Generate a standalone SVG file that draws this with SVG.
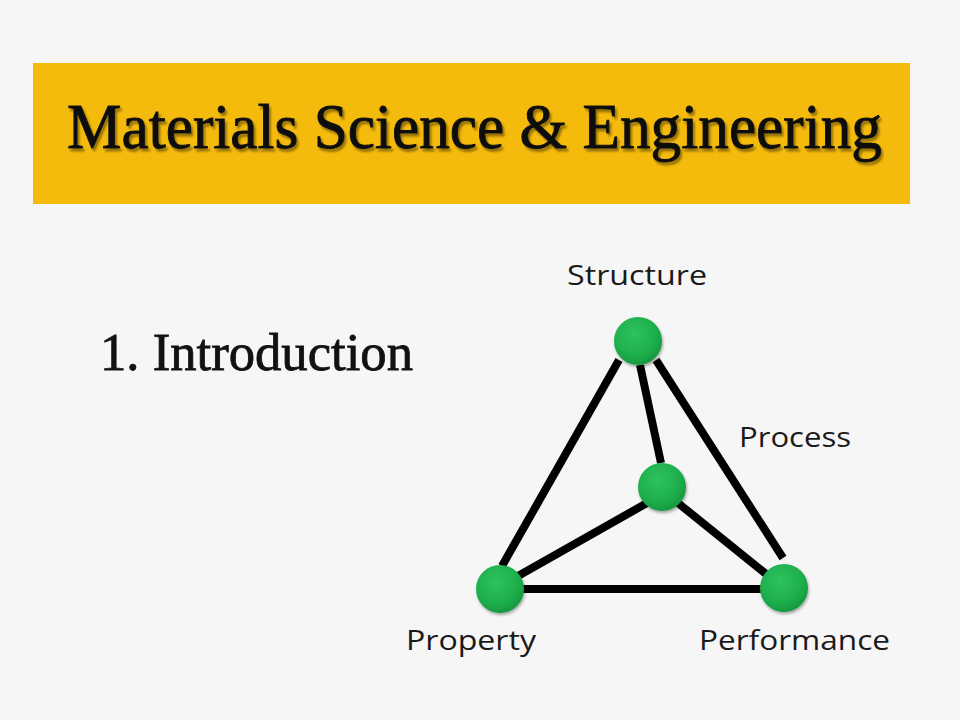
<svg xmlns="http://www.w3.org/2000/svg" width="960" height="720" viewBox="0 0 960 720">
<defs>
<radialGradient id="ball" cx="0.42" cy="0.35" r="0.65">
<stop offset="0" stop-color="#2fc25e"/>
<stop offset="0.7" stop-color="#1eae4c"/>
<stop offset="1" stop-color="#17993f"/>
</radialGradient>
<filter id="glow" x="-30%" y="-30%" width="160%" height="160%">
<feGaussianBlur in="SourceAlpha" stdDeviation="1.5"/>
<feOffset dx="1" dy="2"/>
<feComponentTransfer><feFuncA type="linear" slope="0.35"/></feComponentTransfer>
<feMerge><feMergeNode/><feMergeNode in="SourceGraphic"/></feMerge>
</filter>
<filter id="tshadow" x="-5%" y="-20%" width="110%" height="140%">
<feGaussianBlur in="SourceAlpha" stdDeviation="1"/>
<feOffset dx="2" dy="3"/>
<feComponentTransfer><feFuncA type="linear" slope="0.4"/></feComponentTransfer>
<feMerge><feMergeNode/><feMergeNode in="SourceGraphic"/></feMerge>
</filter>
<style>
.title{font-family:"Liberation Serif",serif;font-size:64px;fill:#111;stroke:#111;stroke-width:0.9px;filter:url(#tshadow);}
.sub{font-family:"Liberation Serif",serif;font-size:52px;fill:#111;stroke:#111;stroke-width:0.8px;}
.lbl{font-family:"Open Sans","Noto Sans",sans-serif;font-size:28px;fill:#1a1a1a;}
.edge{stroke:#000;stroke-width:8;stroke-linecap:butt;fill:none;}
.node{fill:url(#ball);filter:url(#glow);}
</style>
</defs>
<rect x="0" y="0" width="960" height="720" fill="#f6f6f6"/>
<g id="banner">
<rect x="33" y="63" width="877" height="141" fill="#f5bb0c"/>
<text class="title" x="67" y="148" textLength="815" lengthAdjust="spacingAndGlyphs">Materials Science &amp; Engineering</text>
</g>
<g id="intro">
<text class="sub" x="100" y="370" textLength="313" lengthAdjust="spacingAndGlyphs">1. Introduction</text>
</g>
<g id="connectors">
<line class="edge" x1="619" y1="360" x2="502" y2="566"/>
<line class="edge" x1="640" y1="365" x2="661" y2="463"/>
<line class="edge" x1="656" y1="360" x2="783" y2="558"/>
<line class="edge" x1="647" y1="503" x2="518" y2="576"/>
<line class="edge" x1="678" y1="503" x2="771" y2="578"/>
<line class="edge" x1="520" y1="589" x2="765" y2="589"/>
</g>
<g id="structure">
<circle class="node" cx="638" cy="341" r="24"/>
<text class="lbl" x="637" y="285" text-anchor="middle" textLength="140" lengthAdjust="spacingAndGlyphs">Structure</text>
</g>
<g id="process">
<circle class="node" cx="662" cy="487" r="24"/>
<text class="lbl" x="739" y="447" textLength="112" lengthAdjust="spacingAndGlyphs">Process</text>
</g>
<g id="property">
<circle class="node" cx="500" cy="589" r="24"/>
<text class="lbl" x="406" y="650" textLength="130" lengthAdjust="spacingAndGlyphs">Property</text>
</g>
<g id="performance">
<circle class="node" cx="784" cy="588" r="24"/>
<text class="lbl" x="699" y="650" textLength="191" lengthAdjust="spacingAndGlyphs">Performance</text>
</g>
</svg>
